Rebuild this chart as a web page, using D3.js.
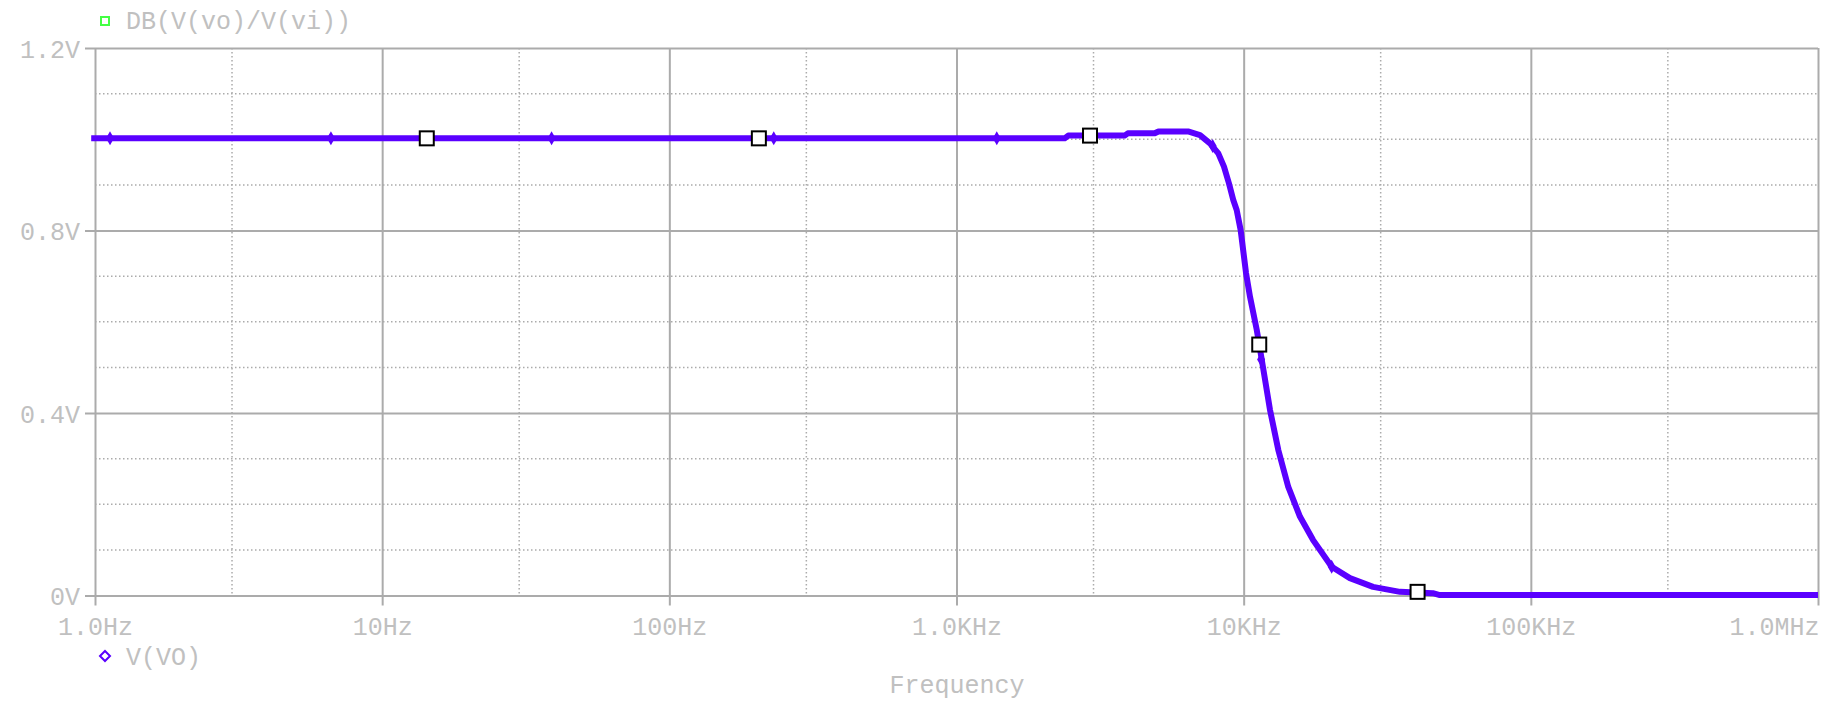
<!DOCTYPE html>
<html>
<head>
<meta charset="utf-8">
<script src="https://cdn.jsdelivr.net/npm/d3@7"></script>
<style>
  html, body { margin: 0; padding: 0; background: #fff; }
  svg { display: block; }
</style>
</head>
<body>
<script>
const fontFamily = "\"Liberation Mono\", \"DejaVu Sans Mono\", monospace";
const textColor = "#c0c0c0";
const gridColor = "#ababab";
const traceColor = "#5a00ff";

// V(VO) trace
const freqHz = [0.97, 10, 100, 1000, 2380, 2450, 3850, 3950, 4900, 5050, 6400, 7046, 7633, 8160, 8540,
  8890, 9200, 9456, 9762, 10190, 10520, 11100, 11330, 11560, 12350, 13200, 14300, 15700, 17430, 20250,
  23440, 28220, 35040, 45600, 48200, 100000, 1000000];
const voltsVO = [1.002, 1.002, 1.002, 1.002, 1.002, 1.008, 1.008, 1.013, 1.013, 1.017, 1.017, 1.009, 0.991, 0.969, 0.94,
  0.903, 0.867, 0.845, 0.801, 0.707, 0.655, 0.583, 0.55, 0.517, 0.407, 0.319, 0.238, 0.173, 0.122, 0.063,
  0.038, 0.019, 0.008, 0.005, 0.001, 0.001, 0.001];

// trace symbols
const diamondFreq = [1.128, 6.63, 38.9, 231, 1381, 7800, 11500, 20250];
const diamondVolts = [1.002, 1.002, 1.002, 1.002, 1.002, 0.985, 0.517, 0.063];
const squareFreq = [14.3, 205, 2917, 11330, 40330];
const squareVolts = [1.002, 1.002, 1.008, 0.55, 0.008];

const xDecades = [1, 10, 100, 1e3, 1e4, 1e5, 1e6];
const xTickLabels = ["1.0Hz", "10Hz", "100Hz", "1.0KHz", "10KHz", "100KHz", "1.0MHz"];
const xMinorGrid = [3, 30, 300, 3e3, 3e4, 3e5];
const yTicks = [0, 0.4, 0.8, 1.2];
const yTickLabels = ["0V", "0.4V", "0.8V", "1.2V"];
const yMinorGrid = [0.1, 0.2, 0.3, 0.5, 0.6, 0.7, 0.9, 1.0, 1.1];

const width = 1828;
const height = 704;
const plot = { left: 95, right: 1818, top: 48, bottom: 595.5 };

const svg = d3.select("body").append("svg")
    .attr("width", width)
    .attr("height", height)
    .style("font-family", fontFamily);

const x = d3.scaleLog().domain([1, 1e6]).range([plot.left, plot.right]);
const y = d3.scaleLinear().domain([0, 1.2]).range([plot.bottom, plot.top]);

// dotted minor grid
svg.append("g").selectAll("line.vminor")
    .data(xMinorGrid).enter().append("line")
    .attr("x1", d => x(d)).attr("x2", d => x(d))
    .attr("y1", plot.top).attr("y2", plot.bottom)
    .attr("stroke", gridColor).attr("stroke-width", 1.5)
    .attr("stroke-dasharray", "1.5,2.5");

svg.append("g").selectAll("line.hminor")
    .data(yMinorGrid).enter().append("line")
    .attr("x1", plot.left).attr("x2", plot.right)
    .attr("y1", d => y(d)).attr("y2", d => y(d))
    .attr("stroke", gridColor).attr("stroke-width", 1.5)
    .attr("stroke-dasharray", "1.5,2.5");

// solid major grid via axes
const xAxis = d3.axisBottom(x)
    .tickValues(xDecades)
    .tickSize(-(plot.bottom - plot.top))
    .tickFormat((d, i) => xTickLabels[i]);

const gx = svg.append("g")
    .attr("transform", `translate(0,${plot.bottom})`)
    .call(xAxis);
gx.select(".domain").remove();
gx.selectAll(".tick line").attr("stroke", gridColor).attr("stroke-width", 2)
    .attr("y2", -(plot.bottom - plot.top)).attr("y1", 10);
gx.selectAll(".tick text")
    .attr("y", 30).attr("dy", 9)
    .attr("fill", textColor)
    .style("font-size", "25px")
    .style("font-family", fontFamily);
// last label sits inside the right edge
gx.selectAll(".tick text").filter((d, i) => i === xDecades.length - 1)
    .attr("text-anchor", "end").attr("x", 1);

const yAxis = d3.axisLeft(y)
    .tickValues(yTicks)
    .tickSize(-(plot.right - plot.left))
    .tickFormat((d, i) => yTickLabels[i]);

const gy = svg.append("g")
    .attr("transform", `translate(${plot.left},0)`)
    .call(yAxis);
gy.select(".domain").remove();
gy.selectAll(".tick line").attr("stroke", gridColor).attr("stroke-width", 2)
    .attr("x1", -10).attr("x2", plot.right - plot.left);
gy.selectAll(".tick text")
    .attr("x", -15).attr("dy", 9)
    .attr("fill", textColor)
    .style("font-size", "25px")
    .style("font-family", fontFamily);

// trace
const points = freqHz.map((f, i) => [f, voltsVO[i]]);
const line = d3.line()
    .x(d => x(d[0]))
    .y(d => y(d[1]));

svg.append("path")
    .datum(points)
    .attr("d", line)
    .attr("fill", "none")
    .attr("stroke", traceColor)
    .attr("stroke-width", 6)
    .attr("stroke-linejoin", "round");

const diamondPath = "M0,-7L4,0L0,7L-4,0Z";
svg.append("g").selectAll("path.diamond")
    .data(diamondFreq.map((f, i) => [f, diamondVolts[i]]))
    .enter().append("path")
    .attr("d", diamondPath)
    .attr("transform", d => `translate(${x(d[0])},${y(d[1])})`)
    .attr("fill", traceColor);

svg.append("g").selectAll("rect.square")
    .data(squareFreq.map((f, i) => [f, squareVolts[i]]))
    .enter().append("rect")
    .attr("x", d => x(d[0]) - 7).attr("y", d => y(d[1]) - 7)
    .attr("width", 14).attr("height", 14)
    .attr("fill", "#fff").attr("stroke", "#000").attr("stroke-width", 2);

// legends
svg.append("rect")
    .attr("x", 101).attr("y", 17).attr("width", 8).attr("height", 8)
    .attr("fill", "none").attr("stroke", "#44ff44").attr("stroke-width", 2);
svg.append("text")
    .attr("x", 126).attr("y", 29)
    .attr("fill", textColor).style("font-size", "25px")
    .text("DB(V(vo)/V(vi))");

svg.append("path")
    .attr("d", "M0,-5L5,0L0,5L-5,0Z")
    .attr("transform", "translate(105,656)")
    .attr("fill", "none").attr("stroke", traceColor).attr("stroke-width", 2);
svg.append("text")
    .attr("x", 126).attr("y", 665)
    .attr("fill", textColor).style("font-size", "25px")
    .text("V(VO)");

svg.append("text")
    .attr("x", 957).attr("y", 693)
    .attr("text-anchor", "middle")
    .attr("fill", textColor).style("font-size", "25px")
    .text("Frequency");
</script>
</body>
</html>
